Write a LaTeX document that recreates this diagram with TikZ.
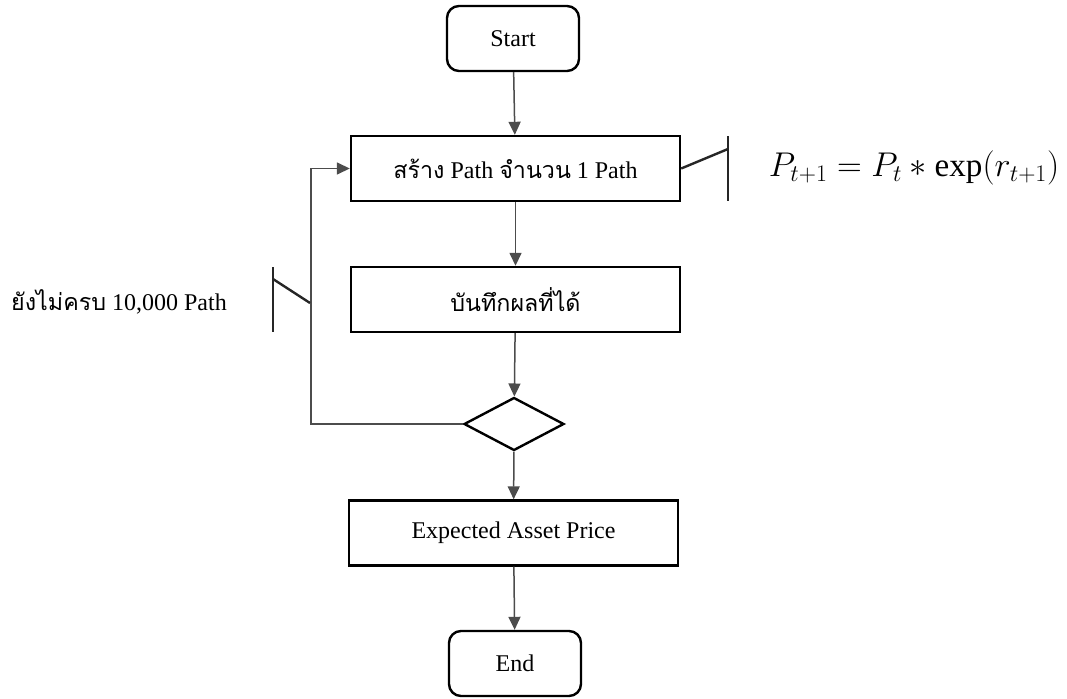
\documentclass[tikz,border=0pt]{standalone}
\usepackage{fontspec}
\setmainfont{Liberation Serif}
\newfontfamily\thaifont[Script=Thai,Scale=0.97]{Loma}
\newcommand{\thaitext}[1]{{\thaifont #1}}
\usetikzlibrary{arrows.meta,shapes.geometric}
\begin{document}
\begin{tikzpicture}[x=1pt,y=-1pt,
    every node/.style={font=\fontsize{24}{28}\selectfont},
    term/.style={draw,rounded corners=12pt,line width=2.4pt,minimum width=132pt,minimum height=65pt,inner sep=0pt},
    procbox/.style={draw,line width=2.4pt,minimum width=329pt,minimum height=65pt,inner sep=0pt},
    decision/.style={draw,diamond,line width=2.4pt,minimum width=100pt,minimum height=53pt,inner sep=0pt},
    flow/.style={draw=black!70,line width=1.5pt},
    note/.style={draw=black!85,line width=2.4pt}]
  \useasboundingbox (0,0) rectangle (1067,698);
  % flowchart
  \draw
    (513,38.5) node[term] (start){Start}
    (515.5,168.5) node[procbox] (make){\thaitext{สร้าง} Path \thaitext{จำนวน} 1 Path}
    (515.5,299.5) node[procbox] (record){\thaitext{บันทึกผลที่ได้}}
    (514,424) node[decision] (check){}
    (513.5,533) node[procbox] (expect){Expected Asset Price}
    (515,663.5) node[term] (end){End};
  % side notes
  \draw
    (914,168) node (eq){\scalebox{1.38}{$P_{t+1} = P_t * \exp(r_{t+1})$}}
    (119,302) node (notyet){\thaitext{ยังไม่ครบ} 10,000 Path};
  \coordinate (loop) at (311,424);
  \coordinate (rtop) at (728,136);
  \coordinate (rbot) at (728,201);
  \coordinate (rknee) at (728,149);
  \coordinate (ltop) at (273,267);
  \coordinate (lbot) at (273,332);
  \coordinate (lknee) at (273,279);
  \coordinate (lend) at (310,303);
  \begin{scope}[flow,-{Triangle[length=13pt,width=12pt]}]
    \draw (start) to (make);
    \draw (make) to (record);
    \draw (record) to (check);
    \draw (check) to (expect);
    \draw (expect) to (end);
    \draw (check.west) -- (loop) |- (make.west);
  \end{scope}
  \begin{scope}[note]
    \draw (make.east) -- (rknee);
    \draw (rtop) -- (rbot);
    \draw (ltop) -- (lbot);
    \draw (lknee) -- (lend);
  \end{scope}
\end{tikzpicture}
\end{document}
